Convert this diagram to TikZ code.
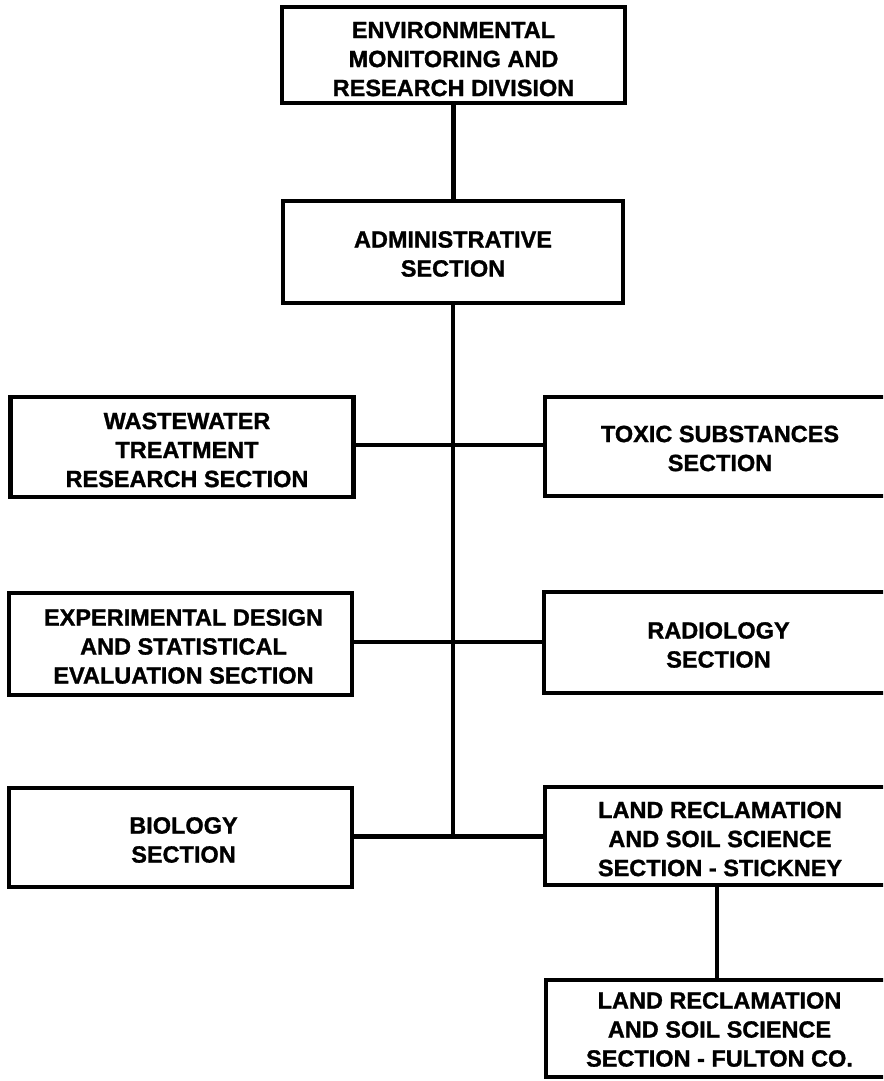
\documentclass[tikz,border=0pt]{standalone}
\usepackage{fontspec}
\setmainfont{Liberation Sans}[BoldFeatures={FakeBold=1.2}]
\begin{document}
\begin{tikzpicture}[x=1pt,y=-1pt,
  frame/.style={draw, line width=4.8pt, rectangle, inner sep=0pt, fill=white},
  lbl/.style={align=center, inner sep=0pt, font=\fontsize{23.5}{29}\selectfont\bfseries},
  conn/.style={line width=4.5pt}]
\useasboundingbox (0,0) rectangle (883,1081);
\fill[white] (0,0) rectangle (883,1081);
\clip (0,0) rectangle (883,1081);
\coordinate (trunkend) at (453,836.5);
% boxes
\node[frame, minimum width=343pt, minimum height=96pt] (top) at (453.5,55) {};
\node[lbl] (topL) at ([yshift=-4pt]top.center) {ENVIRONMENTAL\\MONITORING AND\\RESEARCH DIVISION};
\node[frame, minimum width=340pt, minimum height=102pt] (adm) at (453,252) {};
\node[lbl] (admL) at ([yshift=-2pt]adm.center) {ADMINISTRATIVE\\SECTION};
\node[frame, minimum width=343pt, minimum height=100pt] (ww) at (182,447) {};
\node[lbl] (wwL) at ([xshift=5pt,yshift=-3pt]ww.center) {WASTEWATER\\TREATMENT\\RESEARCH SECTION};
\node[frame, minimum width=346pt, minimum height=99pt] (tox) at (718,446.5) {};
\node[lbl] (toxL) at ([xshift=2pt,yshift=-2pt]tox.center) {TOXIC SUBSTANCES\\SECTION};
\node[frame, minimum width=343pt, minimum height=102pt] (eds) at (180.5,644) {};
\node[lbl] (edsL) at ([xshift=3pt,yshift=-2.5pt]eds.center) {EXPERIMENTAL DESIGN\\AND STATISTICAL\\EVALUATION SECTION};
\node[frame, minimum width=347pt, minimum height=101pt] (rad) at (717.5,642.5) {};
\node[lbl] (radL) at ([xshift=1pt,yshift=-2.5pt]rad.center) {RADIOLOGY\\SECTION};
\node[frame, minimum width=343pt, minimum height=99pt] (bio) at (180.5,837.5) {};
\node[lbl] (bioL) at ([xshift=3pt,yshift=-2.5pt]bio.center) {BIOLOGY\\SECTION};
\node[frame, minimum width=346pt, minimum height=98pt] (stk) at (718,836) {};
\node[lbl] (stkL) at ([xshift=2pt,yshift=-3pt]stk.center) {LAND RECLAMATION\\AND SOIL SCIENCE\\SECTION - STICKNEY};
\node[frame, minimum width=345pt, minimum height=97pt] (ful) at (718.5,1028.5) {};
\node[lbl] (fulL) at ([xshift=1pt,yshift=-1pt]ful.center) {LAND RECLAMATION\\AND SOIL SCIENCE\\SECTION - FULTON CO.};
% connectors
\draw[conn] (top.south) -- (top.south |- adm.north);
\draw[conn] (adm.south) -- (trunkend);
\draw[conn] (ww.east |- 0,445) -- (tox.west |- 0,445);
\draw[conn] (eds.east |- 0,642) -- (rad.west |- 0,642);
\draw[conn] (bio.east |- 0,836.5) -- (stk.west |- 0,836.5);
\draw[conn] (stk.south -| 717,0) -- (ful.north -| 717,0);
\end{tikzpicture}
\end{document}
